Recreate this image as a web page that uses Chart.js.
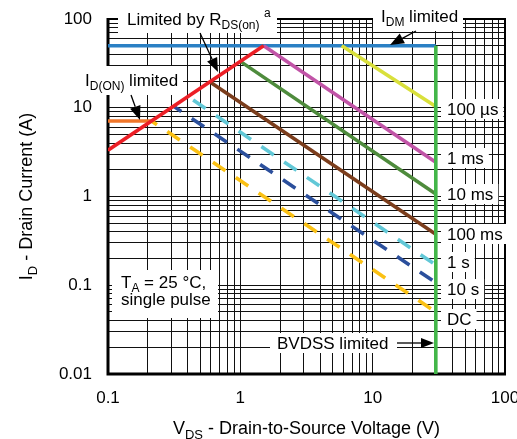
<!DOCTYPE html>
<html><head><meta charset="utf-8">
<script src="https://cdn.jsdelivr.net/npm/chart.js@4/dist/chart.umd.min.js"></script>
<style>html,body{margin:0;padding:0;background:#fff}</style>
</head><body>
<canvas id="c" width="517" height="439"></canvas>
<script>
// ---- tick labels ----
const xTickValues = [0.1, 1, 10, 100];
const xTickLabels = ['0.1', '1', '10', '100'];
const yTickValues = [0.01, 0.1, 1, 10, 100];
const yTickLabels = ['0.01', '0.1', '1', '10', '100'];

// ---- series (VDS in V, ID in A) ----
const rdsV = [0.1, 1.5];      const rdsI = [3.33, 50];
const idOnV = [0.1, 0.213];   const idOnI = [7.1, 7.1];
const idmV = [0.1, 30];       const idmI = [50, 50];
const bvdssV = [30, 30];      const bvdssI = [50, 0.01];
const t100usV = [5.84, 30];   const t100usI = [50, 10.3];
const t1msV = [1.5, 30];      const t1msI = [50, 2.43];
const t10msV = [1.0, 30];     const t10msI = [33.3, 1.07];
const t100msV = [0.59, 30];   const t100msI = [19.5, 0.375];
const t1sV = [0.44, 30];      const t1sI = [12.2, 0.169];
const t10sV = [0.31, 30];     const t10sI = [10.5, 0.107];
const dcV = [0.213, 30];      const dcI = [7.1, 0.05];

const FONT = "'Liberation Sans', Arial, Helvetica, sans-serif";
Chart.defaults.font.family = FONT;
Chart.defaults.color = '#000';

const pts = (xs, ys) => xs.map((x, i) => ({x: x, y: ys[i]}));
const series = [
  {label: 'BVDSS limited', xs: bvdssV, ys: bvdssI, color: '#43b649'},
  {label: 'Limited by RDS(on)', xs: rdsV, ys: rdsI, color: '#ec1f26'},
  {label: '100 us', xs: t100usV, ys: t100usI, color: '#d9e03b'},
  {label: '1 ms', xs: t1msV, ys: t1msI, color: '#c154a7'},
  {label: 'IDM limited', xs: idmV, ys: idmI, color: '#2a80c4'},
  {label: 'ID(ON) limited', xs: idOnV, ys: idOnI, color: '#f0762a'},
  {label: '10 ms', xs: t10msV, ys: t10msI, color: '#4e8b3c'},
  {label: '100 ms', xs: t100msV, ys: t100msI, color: '#7b3d1c'},
  {label: '1 s', xs: t1sV, ys: t1sI, color: '#62c8d7', dash: [15, 12.5], off: 0},
  {label: '10 s', xs: t10sV, ys: t10sI, color: '#2b4f9c', dash: [15, 12.5], off: 5},
  {label: 'DC', xs: dcV, ys: dcI, color: '#fbc114', dash: [15, 12.5], off: 8.4}
];

function gridTicks(e0, e1) {
  const out = [];
  for (let e = e0; e < e1; e++) {
    for (let m = 1; m <= 9; m++) out.push({value: parseFloat((m * Math.pow(10, e)).toPrecision(6))});
  }
  out.push({value: Math.pow(10, e1)});
  return out;
}
function labelFor(values, labels, v) {
  for (let i = 0; i < values.length; i++) if (Math.abs(values[i] - v) / values[i] < 1e-6) return labels[i];
  return '';
}

function rich(ctx, x, y, parts, measureOnly) {
  let cx = x;
  for (const p of parts) {
    ctx.font = p[1] + 'px ' + FONT;
    if (!measureOnly) ctx.fillText(p[0], cx, y + (p[2] || 0));
    cx += ctx.measureText(p[0]).width;
  }
  return cx - x;
}
function arrow(ctx, x1, y1, x2, y2, len, w) {
  const dx = x2 - x1, dy = y2 - y1, d = Math.hypot(dx, dy);
  const ux = dx / d, uy = dy / d;
  const bx = x2 - ux * len, by = y2 - uy * len;
  ctx.beginPath(); ctx.moveTo(x1, y1); ctx.lineTo(bx, by); ctx.stroke();
  ctx.beginPath(); ctx.moveTo(x2, y2);
  ctx.lineTo(bx - uy * w / 2, by + ux * w / 2);
  ctx.lineTo(bx + uy * w / 2, by - ux * w / 2);
  ctx.closePath(); ctx.fill();
}

const rightLabels = [
  {t: '100 µs', cy: 109}, {t: '1 ms', cy: 158}, {t: '10 ms', cy: 194},
  {t: '100 ms', cy: 234}, {t: '1 s', cy: 262}, {t: '10 s', cy: 289}, {t: 'DC', cy: 319}
];

const annot = {
  id: 'annot',
  beforeDatasetsDraw(chart) {
    const ctx = chart.ctx, a = chart.chartArea;
    ctx.save();
    // frame
    ctx.strokeStyle = '#000';
    ctx.lineWidth = 2;
    ctx.strokeRect(a.left, a.top, a.right - a.left, a.bottom - a.top);
    ctx.lineWidth = 3;
    ctx.beginPath(); ctx.moveTo(a.left, a.top - 1); ctx.lineTo(a.left, a.bottom); ctx.lineTo(a.right + 1, a.bottom); ctx.stroke();

    ctx.fillStyle = '#fff';
    const boxes = [
      [118, 0, 159, 33], [373, 0, 90, 31], [78, 66, 105, 29],
      [270, 333, 127, 20], [112, 270, 106, 48]
    ];
    boxes.forEach(b => ctx.fillRect(b[0], b[1], b[2], b[3]));
    ctx.font = '17px ' + FONT;
    rightLabels.forEach(l => {
      const w = ctx.measureText(l.t).width;
      ctx.fillRect(441, l.cy - 10, w + 11, 20);
    });

    ctx.fillStyle = '#000';
    ctx.textBaseline = 'alphabetic';
    ctx.textAlign = 'left';
    rich(ctx, 127, 25, [['Limited by R', 17], ['DS(on)', 12, 4]]);
    rich(ctx, 264, 17, [['a', 12]]);
    rich(ctx, 381, 22, [['I', 17], ['DM', 12, 4], [' limited', 17]]);
    rich(ctx, 85, 86, [['I', 17], ['D(ON)', 12, 4], [' limited', 17]]);
    rich(ctx, 277, 349, [['BVDSS limited', 17]]);
    rich(ctx, 121, 288, [['T', 17], ['A', 12, 4], [' = 25 °C,', 17]]);
    rich(ctx, 121, 305, [['single pulse', 17]]);
    ctx.font = '17px ' + FONT;
    rightLabels.forEach(l => ctx.fillText(l.t, 447, l.cy + 6));

    // axis titles
    const xParts = [['V', 18], ['DS', 13, 5], [' - Drain-to-Source Voltage (V)', 18]];
    const xw = rich(ctx, 0, 0, xParts, true);
    rich(ctx, (a.left + a.right) / 2 - xw / 2, 434, xParts);
    const yParts = [['I', 18], ['D', 13, 5], [' - Drain Current (A)', 18]];
    const yw = rich(ctx, 0, 0, yParts, true);
    ctx.save();
    ctx.translate(32, (a.top + a.bottom) / 2);
    ctx.rotate(-Math.PI / 2);
    rich(ctx, -yw / 2, 0, yParts);
    ctx.restore();
    ctx.restore();
  },
  afterDatasetsDraw(chart) {
    const ctx = chart.ctx;
    ctx.save();
    ctx.strokeStyle = '#000'; ctx.fillStyle = '#000'; ctx.lineWidth = 1.3;
    arrow(ctx, 200, 33, 218, 72, 14, 11);
    arrow(ctx, 416, 31, 390, 45, 14, 11);
    arrow(ctx, 131, 95, 140, 120, 14, 11);
    arrow(ctx, 397, 343, 434, 343, 13, 10);
    ctx.restore();
  }
};

new Chart(document.getElementById('c'), {
  type: 'scatter',
  data: {
    datasets: series.map(s => ({
      label: s.label,
      data: pts(s.xs, s.ys),
      borderColor: s.color,
      backgroundColor: s.color,
      borderWidth: 3.6,
      borderDash: s.dash || [],
      borderDashOffset: s.off || 0,
      borderCapStyle: 'butt',
      showLine: true,
      pointRadius: 0,
      fill: false,
      tension: 0
    }))
  },
  options: {
    responsive: false,
    animation: false,
    devicePixelRatio: 1,
    layout: {padding: {left: 0, right: 12, top: 19, bottom: 0}},
    plugins: {legend: {display: false}, tooltip: {enabled: false}},
    scales: {
      x: {
        type: 'logarithmic', min: 0.1, max: 100,
        border: {display: false},
        grid: {color: '#111', lineWidth: 1, drawTicks: false},
        ticks: {
          autoSkip: false, maxRotation: 0, minRotation: 0, padding: 14,
          font: {size: 17}, color: '#000',
          callback: (v) => labelFor(xTickValues, xTickLabels, v)
        },
        afterBuildTicks: (s) => { s.ticks = gridTicks(-1, 2); },
        afterFit: (s) => { s.height = 65; s.paddingLeft = 0; s.paddingRight = 0; }
      },
      y: {
        type: 'logarithmic', min: 0.01, max: 100,
        border: {display: false},
        grid: {color: '#111', lineWidth: 1, drawTicks: false},
        ticks: {
          autoSkip: false, padding: 16,
          font: {size: 17}, color: '#000',
          callback: (v) => labelFor(yTickValues, yTickLabels, v)
        },
        afterBuildTicks: (s) => { s.ticks = gridTicks(-2, 2); },
        afterFit: (s) => { s.width = 108; s.paddingTop = 0; s.paddingBottom = 0; }
      }
    }
  },
  plugins: [annot]
});
</script>
</body></html>
